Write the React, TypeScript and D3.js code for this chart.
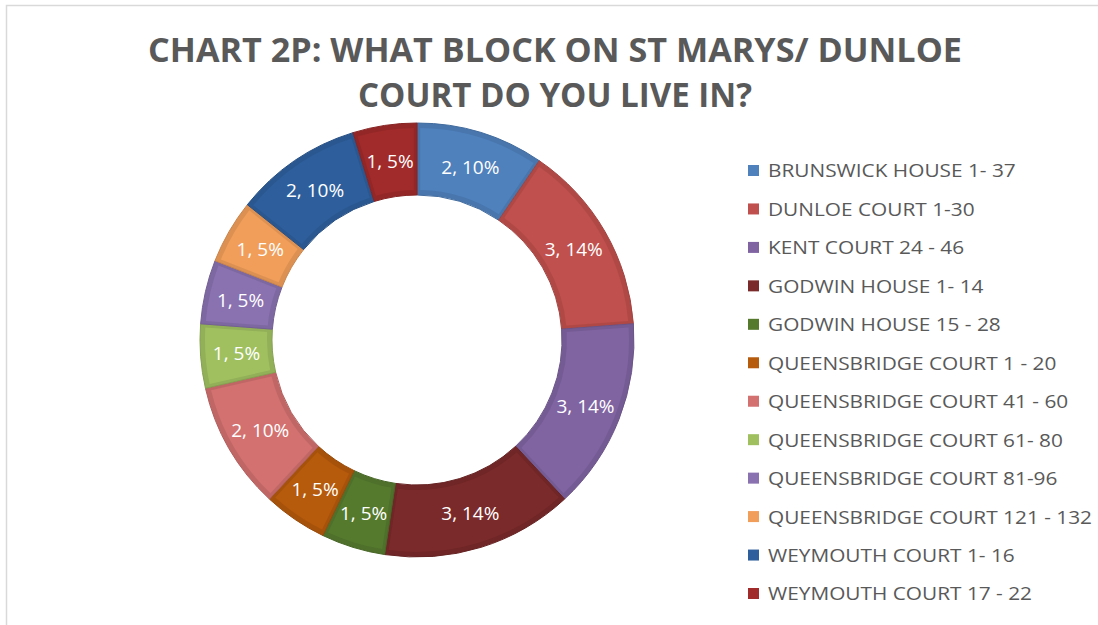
import React, { useRef, useEffect } from 'react';
import * as d3 from 'd3';

const titleLines = ['CHART 2P: WHAT BLOCK ON ST MARYS/ DUNLOE', 'COURT DO YOU LIVE IN?'];

const blocks = [
  'BRUNSWICK HOUSE 1- 37',
  'DUNLOE COURT 1-30',
  'KENT COURT 24 - 46',
  'GODWIN HOUSE 1- 14',
  'GODWIN HOUSE 15 - 28',
  'QUEENSBRIDGE COURT 1 - 20',
  'QUEENSBRIDGE COURT 41 - 60',
  'QUEENSBRIDGE COURT 61- 80',
  'QUEENSBRIDGE COURT 81-96',
  'QUEENSBRIDGE COURT 121 - 132',
  'WEYMOUTH COURT 1- 16',
  'WEYMOUTH COURT 17 - 22',
];

const counts = [2, 3, 3, 3, 1, 1, 2, 1, 1, 1, 2, 1];

const colors = [
  '#4f81bd', '#c0504d', '#8064a2', '#7a2a2a', '#557a2e', '#b65a0c',
  '#d27170', '#a0c060', '#8a72b0', '#f09e5a', '#2e5f9c', '#a12b2b',
];

export default function App() {
  const svgRef = useRef<SVGSVGElement | null>(null);

  useEffect(() => {
    if (!svgRef.current) return;
    const svg = d3.select(svgRef.current);
    svg.selectAll('*').remove();

    const width = 1098;
    const height = 625;
    const cx = 417;
    const cy = 340;
    const outer = 217;
    const inner = 145;

    svg.attr('width', width).attr('height', height);

    // chart area frame
    svg.append('rect')
      .attr('x', 6.5).attr('y', 5.5)
      .attr('width', width + 20).attr('height', height + 20)
      .attr('fill', '#fff')
      .attr('stroke', '#d9d9d9').attr('stroke-width', 1.5);

    // title
    const titleWidths = [814, 394];
    svg.append('g').selectAll('text')
      .data(titleLines)
      .enter()
      .append('text')
      .attr('x', 555)
      .attr('y', (d, i) => 62 + i * 45)
      .attr('text-anchor', 'middle')
      .attr('font-family', 'Open Sans, sans-serif')
      .attr('font-weight', 'bold')
      .attr('font-size', '34px')
      .attr('fill', '#595959')
      .attr('textLength', (d, i) => titleWidths[i])
      .attr('lengthAdjust', 'spacingAndGlyphs')
      .text(d => d);

    const total = d3.sum(counts);
    const pie = d3.pie<number>().sort(null).value(d => d);
    const arcs = pie(counts);
    const arc = d3.arc<d3.PieArcDatum<number>>().innerRadius(inner).outerRadius(outer);
    const arcInset = d3.arc<d3.PieArcDatum<number>>().innerRadius(inner + 5).outerRadius(outer - 5);

    const g = svg.append('g').attr('transform', `translate(${cx},${cy})`);

    g.selectAll('.slice')
      .data(arcs)
      .enter()
      .append('path')
      .attr('class', 'slice')
      .attr('d', arc)
      .attr('fill', (d, i) => d3.color(colors[i])!.darker(0.25).toString())
      .attr('stroke', (d, i) => d3.color(colors[i])!.darker(0.5).toString())
      .attr('stroke-width', 1);

    // soft bevel look: slightly inset lighter face
    g.selectAll('.face')
      .data(arcs)
      .enter()
      .append('path')
      .attr('class', 'face')
      .attr('d', d => arcInset({ ...d, padAngle: 0.025 }))
      .attr('fill', (d, i) => colors[i]);

    g.selectAll('.lbl')
      .data(arcs)
      .enter()
      .append('text')
      .attr('class', 'lbl')
      .attr('transform', d => `translate(${arc.centroid(d)})`)
      .attr('text-anchor', 'middle')
      .attr('dy', '0.36em')
      .attr('font-family', 'Open Sans, sans-serif')
      .attr('font-size', '19px')
      .attr('fill', '#fff')
      .text(d => `${d.data}, ${Math.round((d.data / total) * 100)}%`);

    // legend
    const legendY = d3.scaleLinear().domain([0, blocks.length - 1]).range([171, 594]);
    const legend = svg.append('g');
    const items = legend.selectAll('g')
      .data(blocks)
      .enter()
      .append('g')
      .attr('transform', (d, i) => `translate(748,${legendY(i)})`);

    items.append('rect')
      .attr('x', 0).attr('y', -6)
      .attr('width', 11).attr('height', 11)
      .attr('fill', (d, i) => colors[i]);

    const texts = items.append('text')
      .attr('x', 20)
      .attr('dy', '0.36em')
      .attr('font-family', 'Open Sans, sans-serif')
      .attr('font-size', '18px')
      .attr('fill', '#595959')
      .text(d => d);

    // squeeze legend text to the narrow look of the original
    const longest = d3.max(texts.nodes(), n => (n as SVGTextElement).getComputedTextLength()) || 1;
    const k = 324 / longest;
    texts.each(function () {
      const el = this as SVGTextElement;
      const w = el.getComputedTextLength();
      d3.select(el).attr('textLength', w * k).attr('lengthAdjust', 'spacingAndGlyphs');
    });
  }, []);

  return (
    <svg ref={svgRef} style={{ position: 'absolute', left: 0, top: 0, display: 'block' }} />
  );
}
